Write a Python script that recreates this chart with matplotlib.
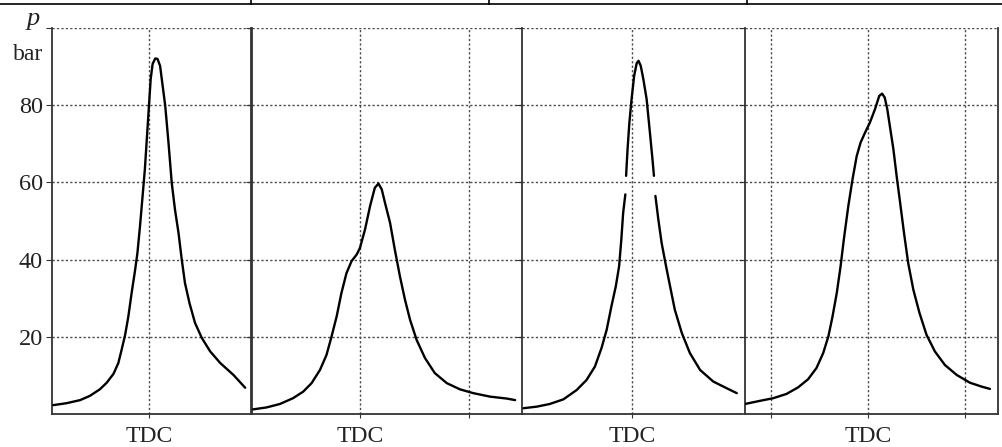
import numpy as np
import matplotlib.pyplot as plt
from matplotlib.lines import Line2D

plt.rcParams["font.family"] = ["Liberation Serif", "DejaVu Serif"]

# crank angle in degrees (0 = TDC) and cylinder pressure in bar, one trace per cylinder
angle_1 = [-29.6, -25.5, -21.3, -18.3, -15.2, -13.1, -11.0, -9.5, -8.5, -7.4, -6.4, -5.4,
           -4.3, -3.6, -2.8, -2.0, -1.3, -0.7, -0.1, 0.5, 1.1, 1.9, 2.6, 3.4, 4.2, 5.0,
           6.0, 7.0, 8.0, 9.1, 10.1, 11.1, 12.5, 14.2, 16.3, 18.9, 22.0, 26.1, 29.7]
p_1 = [2.3, 2.8, 3.6, 4.7, 6.4, 8.1, 10.4, 13.2, 16.6, 20.5, 25.3, 31.3,
       37.4, 41.7, 48.7, 56.5, 63.4, 71.2, 79.0, 86.8, 90.7, 92.1, 92.0, 90.2, 85.0, 79.8,
       70.3, 59.9, 53.0, 46.9, 40.0, 33.9, 28.7, 23.6, 19.7, 16.2, 13.2, 10.1, 6.8]

angle_2 = [-29.4, -25.7, -22.0, -18.4, -15.6, -13.3, -11.0, -9.2, -7.8, -6.4, -5.1, -3.7,
           -2.3, -0.9, 0.0, 1.4, 2.8, 4.1, 5.1, 6.0, 6.9, 8.3, 9.6, 11.0, 12.4, 13.8,
           15.6, 17.9, 20.6, 23.9, 27.5, 31.2, 35.8, 40.4, 42.7]
p_2 = [1.2, 1.7, 2.6, 4.1, 5.8, 8.0, 11.4, 15.3, 20.1, 25.3, 31.3, 36.5,
       39.6, 41.3, 43.0, 47.8, 53.9, 58.6, 59.7, 58.2, 54.7, 49.5, 42.6, 35.7, 29.6, 24.4,
       19.2, 14.5, 10.6, 8.0, 6.4, 5.4, 4.5, 4.0, 3.6]

# trace 3 has two short dropouts around 60 bar
angle_3 = [-29.6, -26.0, -22.4, -18.7, -15.1, -12.4, -10.1, -8.3, -6.9, -5.6, -4.4, -3.5,
           -2.9, -2.4, -1.8, np.nan, -1.6, -1.2, -0.7, -0.1, 0.6, 1.3, 1.8, 2.4, 3.1, 4.0,
           4.9, 5.6, 6.0, np.nan, 6.4, 7.2, 8.1, 9.3, 10.4, 11.7, 13.6, 15.8, 18.6,
           22.2, 25.8, 28.6]
p_3 = [1.5, 1.9, 2.6, 3.8, 6.2, 8.8, 12.3, 17.1, 21.8, 27.9, 33.1, 38.3,
       45.2, 52.1, 56.9, np.nan, 61.7, 68.6, 75.5, 81.6, 87.6, 90.9, 91.5, 90.2, 86.8, 81.6,
       72.9, 66.0, 61.7, np.nan, 56.5, 50.4, 44.3, 38.3, 33.1, 27.0, 21.0, 15.8, 11.4,
       8.4, 6.7, 5.4]

angle_4 = [-38.2, -33.6, -29.4, -25.3, -21.7, -18.6, -16.0, -13.9, -12.3, -11.0, -9.7, -8.5,
           -7.5, -6.1, -4.8, -3.5, -2.3, -0.9, 0.6, 2.2, 3.5, 4.4, 5.2, 6.0, 6.8, 7.9,
           8.9, 10.0, 11.2, 12.5, 14.1, 16.0, 18.2, 20.8, 23.9, 27.6, 31.7, 35.3, 37.9]
p_4 = [2.6, 3.4, 4.1, 5.2, 6.9, 9.0, 11.9, 15.8, 20.1, 25.3, 31.3, 38.3,
       45.2, 53.9, 60.8, 66.8, 70.3, 72.9, 75.5, 79.0, 82.4, 83.0, 82.0, 79.0, 74.6, 68.6,
       61.7, 54.7, 46.9, 39.1, 32.2, 26.2, 20.5, 16.2, 12.7, 10.1, 8.1, 7.1, 6.5]

p_ticks = [20, 40, 60, 80, 100]
p_labels = ["20", "40", "60", "80", ""]

W, H = 1002, 447
fig = plt.figure(figsize=(W / 100, H / 100), dpi=100)

def px_rect(x0, x1, y_top, y_bot):
    return [x0 / W, 1 - y_bot / H, (x1 - x0) / W, (y_bot - y_top) / H]

panels = [
    # (left/right edge in px, xlim, vertical grid positions, trace)
    ((52, 251), (-30.0, 31.5), [0], (angle_1, p_1)),
    ((252, 522), (-29.7, 44.6), [0, 30], (angle_2, p_2)),
    ((522, 743), (-30.0, 30.3), [0], (angle_3, p_3)),
    ((745, 998), (-38.2, 40.4), [-30, 0, 30], (angle_4, p_4)),
]

grid_kw = dict(color="#4a4a4a", lw=1.0, linestyle=(0, (1.6, 1.6)), zorder=1)

for i, ((x0, x1), xlim, vgrid, (ang, p)) in enumerate(panels):
    ax = fig.add_axes(px_rect(x0, x1, 28, 414))
    ax.set_xlim(*xlim)
    ax.set_ylim(0, 100)

    for y in p_ticks:
        ax.axhline(y, **grid_kw)
    for x in vgrid:
        ax.axvline(x, **grid_kw)

    ax.plot(ang, p, color="black", lw=1.7, zorder=3,
            solid_joinstyle="round", solid_capstyle="round")

    ax.spines["top"].set_visible(False)
    ax.spines["right"].set_visible(i in (0, 3))
    for side in ["left", "bottom", "right"]:
        ax.spines[side].set_color("#333333")
        ax.spines[side].set_linewidth(1.3)

    ax.set_yticks(p_ticks)
    if i == 0:
        ax.set_yticklabels(p_labels, fontsize=17.5)
    else:
        ax.set_yticklabels([])
    ax.tick_params(axis="y", direction="out", length=4, width=0.8, pad=2.5, colors="#333333",
                   labelcolor="#222222")

    ax.set_xticks(vgrid)
    ax.set_xticklabels(["TDC" if x == 0 else "" for x in vgrid], fontsize=17)
    ax.tick_params(axis="x", direction="out", length=3, width=0.8, pad=6, colors="#333333",
                   labelcolor="#222222")

# axis title in the corner
fig.text(33 / W, 1 - 19 / H, "p", fontsize=19, style="italic", ha="center", va="center",
         color="#222222")
fig.text(28 / W, 1 - 55 / H, "bar", fontsize=17, ha="center", va="center", color="#222222")

# table rule running along the top edge
fig.add_artist(Line2D([0, 1], [1 - 4 / H, 1 - 4 / H], color="black", lw=1.2))
for xv in [251, 489, 747]:
    fig.add_artist(Line2D([xv / W, xv / W], [1 - 4 / H, 1], color="black", lw=1.2))

fig.savefig("out.png", dpi=100)
